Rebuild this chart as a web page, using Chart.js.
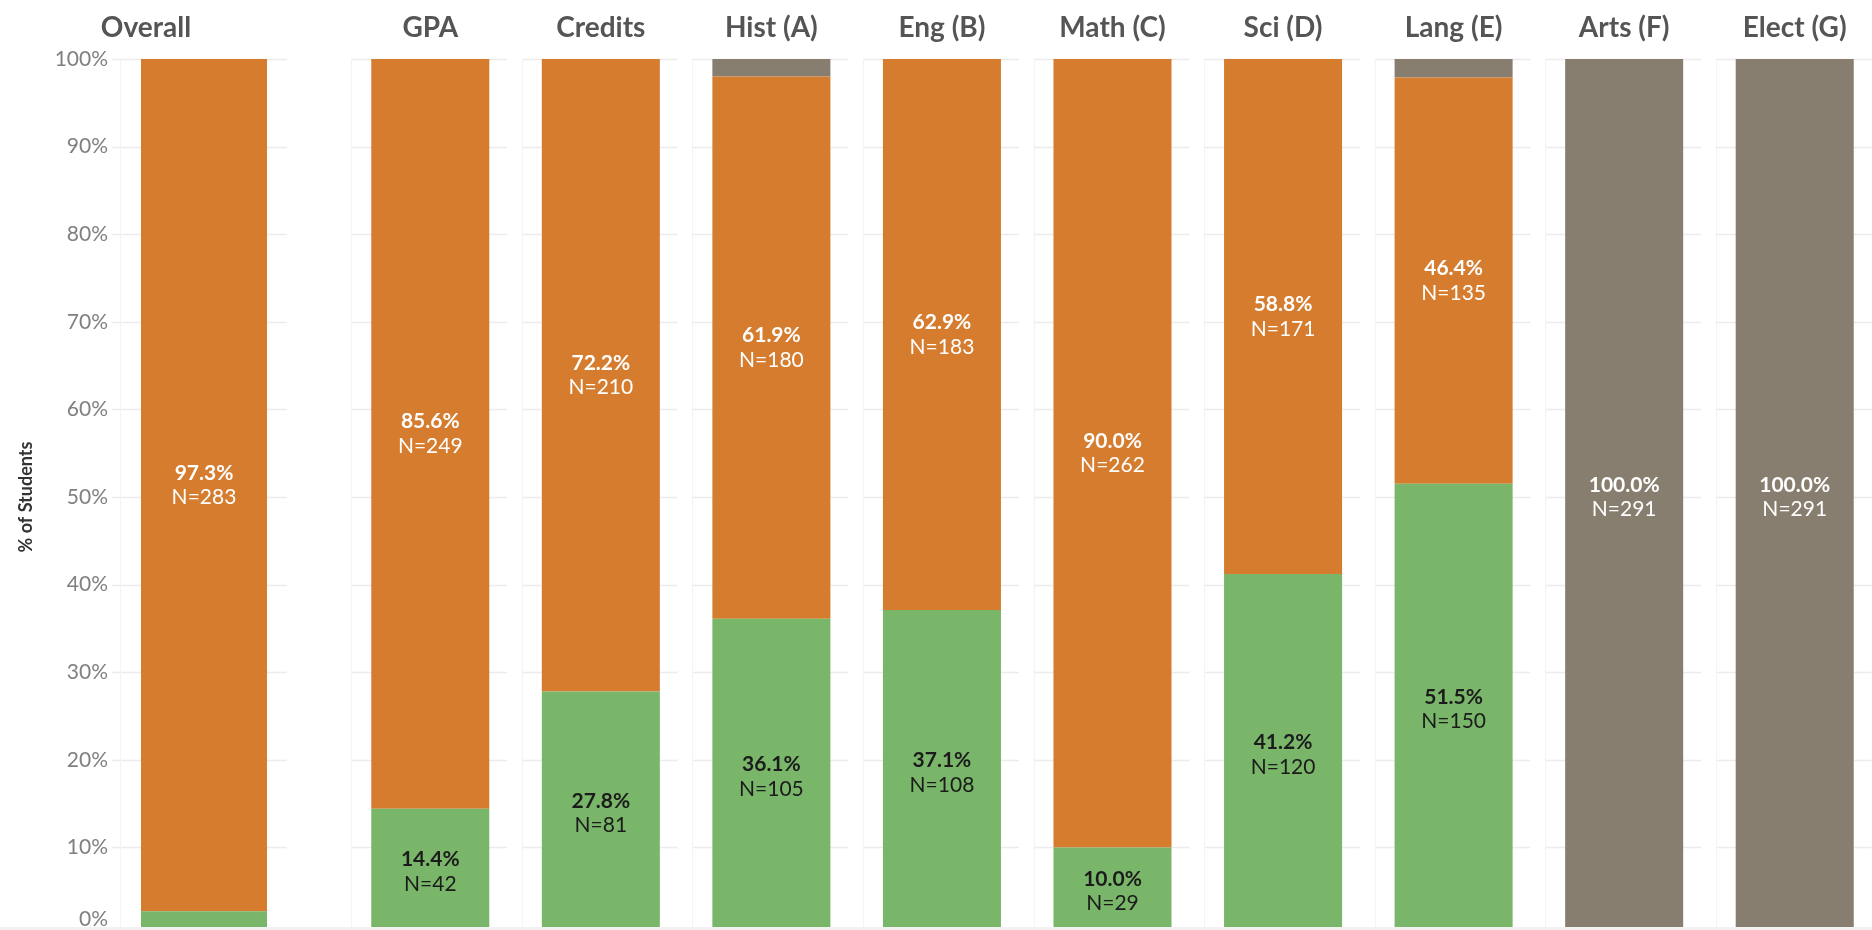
<!DOCTYPE html>
<html>
<head>
<meta charset="utf-8">
<script src="https://cdn.jsdelivr.net/npm/chart.js@4"></script>
<style>
  html, body { margin:0; padding:0; background:#fff; overflow:hidden; width:1872px; height:930px; }
  #wrap { position:relative; width:1872px; height:930px; overflow:hidden; }
  #wA { position:absolute; left:0; top:0; width:288px; height:940px; }
  #wB { position:absolute; left:345px; top:0; width:1535px; height:940px; }
  #band { position:absolute; left:0; top:927px; width:1872px; height:3px; background:#f2f2f2; }
</style>
</head>
<body>
<div id="wrap">
  <div id="wA"><canvas id="cA"></canvas></div>
  <div id="wB"><canvas id="cB"></canvas></div>
  <div id="band"></div>
</div>
<script>
// ---- Data ----
const overallCategories = ['Overall'];
const overallMetPct = [2.7];
const overallMetN = [8];
const overallNotMetPct = [97.3];
const overallNotMetN = [283];
const overallOtherPct = [0];
const overallOtherN = [0];

const categories = ['GPA', 'Credits', 'Hist (A)', 'Eng (B)', 'Math (C)', 'Sci (D)', 'Lang (E)', 'Arts (F)', 'Elect (G)'];
const metPct    = [14.4, 27.8, 36.1, 37.1, 10.0, 41.2, 51.5, 0, 0];
const metN      = [42, 81, 105, 108, 29, 120, 150, 0, 0];
const notMetPct = [85.6, 72.2, 61.9, 62.9, 90.0, 58.8, 46.4, 0, 0];
const notMetN   = [249, 210, 180, 183, 262, 171, 135, 0, 0];
const otherPct  = [0, 0, 2.0, 0, 0, 0, 2.1, 100, 100];
const otherN    = [0, 0, 6, 0, 0, 0, 6, 291, 291];

const yTickValues = [0, 10, 20, 30, 40, 50, 60, 70, 80, 90, 100];

// ---- Styles ----
const GREEN = '#79b669', ORANGE = '#d57c2e', GRAY = '#887e70';
const FONT = 'Lato, "Open Sans", sans-serif';

const segmentLabels = {
  id: 'segmentLabels',
  afterDatasetsDraw(chart, args, o) {
    const ctx = chart.ctx;
    chart.data.datasets.forEach((ds, di) => {
      const meta = chart.getDatasetMeta(di);
      meta.data.forEach((bar, i) => {
        const v = ds.data[i];
        if (!v || v < o.minPct) return;
        const cy = (bar.y + bar.base) / 2;
        ctx.save();
        ctx.fillStyle = ds.labelColor;
        ctx.textAlign = 'center';
        ctx.textBaseline = 'middle';
        ctx.font = 'bold 21px ' + FONT;
        ctx.fillText(v.toFixed(1) + '%', bar.x, cy - o.gap / 2);
        ctx.font = '21px ' + FONT;
        ctx.fillText('N=' + ds.counts[i], bar.x, cy + o.gap / 2);
        ctx.restore();
      });
    });
  }
};

const panelGrid = {
  id: 'panelGrid',
  beforeDatasetsDraw(chart, args, o) {
    const { ctx, chartArea, scales: { x, y } } = chart;
    const n = chart.data.labels.length;
    const step = x.width / n;
    ctx.save();
    for (let i = 0; i < n; i++) {
      const cx = x.getPixelForValue(i);
      const l = cx - step * o.left, r = cx + step * o.right;
      ctx.strokeStyle = o.color;
      ctx.lineWidth = o.lineWidth;
      yTickValues.forEach(v => {
        const py = Math.round(y.getPixelForValue(v)) + 0.5;
        ctx.beginPath(); ctx.moveTo(l, py); ctx.lineTo(r, py); ctx.stroke();
      });
      const vx = Math.round(cx - step * o.vline) + 0.5;
      ctx.strokeStyle = o.vcolor;
      ctx.lineWidth = 1;
      ctx.beginPath(); ctx.moveTo(vx, chartArea.top); ctx.lineTo(vx, chartArea.bottom); ctx.stroke();
    }
    ctx.restore();
  }
};

function makeDatasets(met, metCounts, notMet, notMetCounts, other, otherCounts, barPct) {
  return [
    { label: 'Met', data: met, counts: metCounts, backgroundColor: GREEN, labelColor: '#1b1b1b', barPercentage: barPct, categoryPercentage: 1 },
    { label: 'Not Met', data: notMet, counts: notMetCounts, backgroundColor: ORANGE, labelColor: '#ffffff', barPercentage: barPct, categoryPercentage: 1 },
    { label: 'Other', data: other, counts: otherCounts, backgroundColor: GRAY, labelColor: '#ffffff', barPercentage: barPct, categoryPercentage: 1 }
  ];
}

function xAxis(labelOffset) {
  return {
    type: 'category', position: 'top', stacked: true,
    afterFit: (s) => { s.height = 59; },
    grid: { display: false, drawTicks: false, tickLength: 0 },
    border: { display: false },
    ticks: { color: '#555555', font: { family: FONT, size: 28, weight: 'bold', lineHeight: 1.2 }, padding: 14, labelOffset: labelOffset, maxRotation: 0, autoSkip: false }
  };
}

const common = {
  responsive: true,
  maintainAspectRatio: false,
  animation: false,
  plugins: { legend: { display: false }, tooltip: { enabled: false } }
};

// Overall chart (with y axis)
new Chart(document.getElementById('cA'), {
  type: 'bar',
  data: { labels: overallCategories, datasets: makeDatasets(overallMetPct, overallMetN, overallNotMetPct, overallNotMetN, overallOtherPct, overallOtherN, 0.75) },
  options: Object.assign({}, common, {
    layout: { padding: { top: 0, bottom: 5, left: 0, right: 0 } },
    scales: {
      x: xAxis(-58),
      y: {
        stacked: true, min: 0, max: 100,
        afterFit: (s) => { s.width = 120; s.paddingTop = 0; s.paddingBottom = 0; },
        grid: { display: false, drawTicks: false },
        border: { display: false },
        afterBuildTicks: (s) => { s.ticks = yTickValues.map(v => ({ value: v })); },
        ticks: {
          autoSkip: false, padding: 12, color: '#808080',
          font: (c) => ({ family: FONT, size: 21, lineHeight: (c.tick && c.tick.value === 0) ? '32px' : 1.2 }),
          callback: (v) => v === 0 ? ['0%', ''] : v + '%'
        },
        title: { display: true, text: '% of Students', color: '#333333', font: { family: FONT, size: 18, weight: 'bold' }, padding: { top: 15, bottom: 0 } }
      }
    },
    plugins: Object.assign({}, common.plugins, {
      panelGrid: { left: 0.548, right: 0.494, vline: 0.5, color: '#ececec', vcolor: '#f4f4f4', lineWidth: 1.5 },
      segmentLabels: { minPct: 5, gap: 24.5 }
    })
  }),
  plugins: [panelGrid, segmentLabels]
});

// Subject chart
new Chart(document.getElementById('cB'), {
  type: 'bar',
  data: { labels: categories, datasets: makeDatasets(metPct, metN, notMetPct, notMetN, otherPct, otherN, 0.692) },
  options: Object.assign({}, common, {
    layout: { padding: { top: 0, bottom: 5, left: 0, right: 0 } },
    scales: {
      x: xAxis(0),
      y: { stacked: true, min: 0, max: 100, display: false }
    },
    plugins: Object.assign({}, common.plugins, {
      panelGrid: { left: 0.463, right: 0.451, vline: 0.463, color: '#ececec', vcolor: '#f4f4f4', lineWidth: 1.5 },
      segmentLabels: { minPct: 5, gap: 24.5 }
    })
  }),
  plugins: [panelGrid, segmentLabels]
});
</script>
</body>
</html>
